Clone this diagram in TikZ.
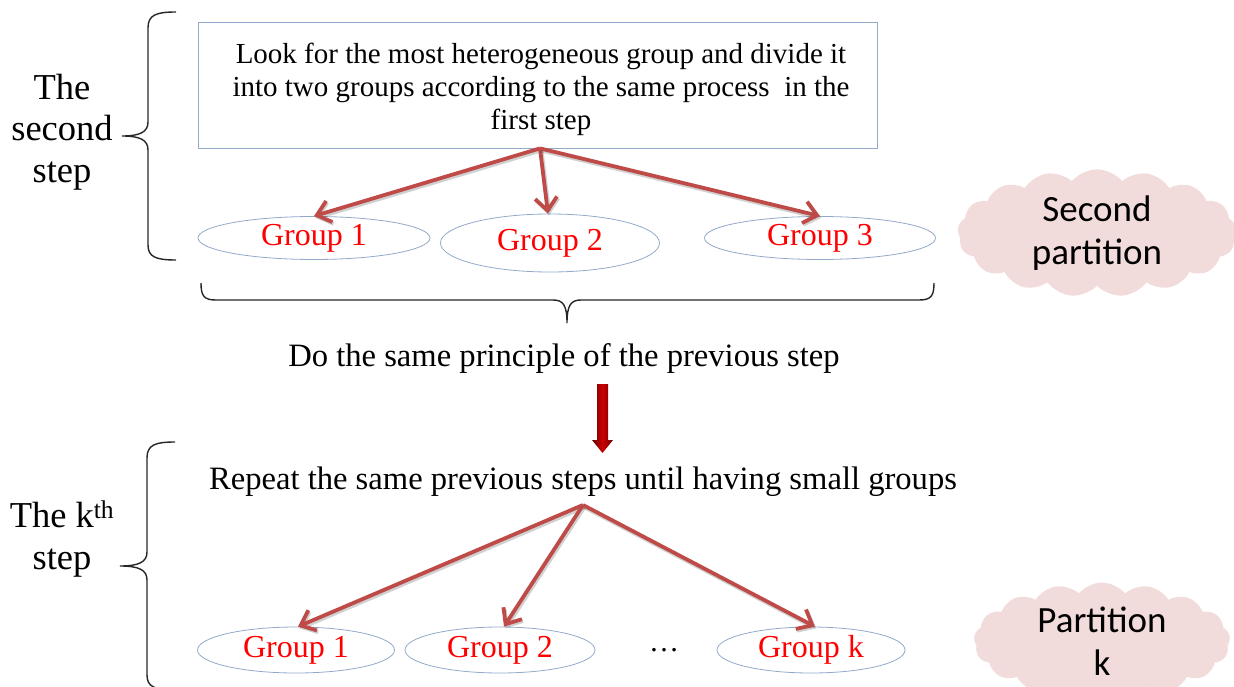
\documentclass[tikz,border=0pt]{standalone}
\usepackage{fontspec}
\setmainfont{Liberation Serif}
\newfontfamily\calib{Carlito}
\usetikzlibrary{shapes.geometric,shapes.symbols,arrows.meta}
\definecolor{arrowred}{HTML}{BE4B48}
\definecolor{outline}{HTML}{93A9C9}
\definecolor{cloudpink}{HTML}{F2DCDB}
\definecolor{bracegray}{HTML}{262626}
\begin{document}
\begin{tikzpicture}[x=1pt,y=-1pt,
  groupoval/.style={ellipse,draw=outline,line width=0.8pt,inner sep=0pt,
    text=red,font=\fontsize{32}{36}\selectfont},
  splitarrow/.style={draw=arrowred,line width=3.8pt,
    -{Straight Barb[length=13pt,width=22pt,line width=3.8pt]},
    preaction={draw=black,opacity=0.18,line width=4.5pt,
      transform canvas={shift={(1.2pt,-1.8pt)}}}},
  bigbrace/.style={draw=bracegray,line width=1.4pt},
  partcloud/.style={cloud,cloud puffs=17,cloud puff arc=100,aspect=2.6,
    fill=cloudpink,draw=none,inner sep=0pt,align=center,
    font=\calib\fontsize{37}{43}\selectfont},
  steplabel/.style={align=center,font=\fontsize{36.5}{41.5}\selectfont},
  plaintext/.style={font=\fontsize{32.6}{36}\selectfont,inner sep=0pt}
]
\useasboundingbox (0,0) rectangle (1234,687);

% ---- second step ----
\node[draw=outline,line width=0.8pt,minimum width=679pt,minimum height=126pt,
      inner sep=0pt] (box) at (537.5,85) {};
\node[align=center,font=\fontsize{29}{33}\selectfont,inner sep=0pt]
  (boxtext) at (541,89) {Look for the most heterogeneous group and divide it\\
  into two groups according to the same process\ \ in the\\ first step};

\node[groupoval,minimum width=232pt,minimum height=43pt] (a1) at (314,238) {Group 1};
\node[groupoval,minimum width=219pt,minimum height=58pt] (a2) at (550,243) {Group 2};
\node[groupoval,minimum width=231pt,minimum height=43pt] (a3) at (820,238) {Group 3};

\coordinate (hubA) at ([xshift=2.5pt]box.south);
\draw[splitarrow] (hubA) -- (a1.north);
\draw[splitarrow] (hubA) -- ([xshift=-2pt]a2.north);
\draw[splitarrow] (hubA) -- (a3.north);

\node[steplabel] (lab2) at (62,132) {The\\second\\step};
\draw[bigbrace] (176,12) .. controls (156,12) and (148,15) .. (148,28)
  -- (148,122) .. controls (148,132) and (140,136) .. (122,136)
  .. controls (140,136) and (148,140) .. (148,150)
  -- (148,245) .. controls (148,257) and (156,260) .. (176,260);

\node[partcloud,minimum width=242pt,minimum height=98pt] (c1) at (1097,233) {Second\\partition};

% ---- transition ----
\draw[bigbrace] (201,283) .. controls (201,296) and (204,300) .. (216,300)
  -- (553,300) .. controls (563,300) and (567,305) .. (567,323)
  .. controls (567,305) and (571,300) .. (581,300)
  -- (919,300) .. controls (931,300) and (934,296) .. (934,283);
\node[plaintext] (same) at (564,358) {Do the same principle of the previous step};

\shade[left color=red!40!black,right color=red!40!black,middle color=red!80!black]
  (597,384) -- (608,384) -- (608,440) -- (613,440) -- (602.5,453) -- (592,440)
  -- (597,440) -- cycle;

\node[plaintext] (rep) at (583,482) {Repeat the same previous steps until having small groups};

% ---- k-th step ----
\node[groupoval,minimum width=197pt,minimum height=46pt] (b1) at (296,650) {Group 1};
\node[groupoval,minimum width=190pt,minimum height=46pt] (b2) at (500,650) {Group 2};
\node[font=\fontsize{30}{34}\selectfont] (dots) at (664,650) {\dots};
\node[groupoval,minimum width=188pt,minimum height=46pt] (bk) at (811,650) {Group k};

\coordinate (hubB) at (583,505);
\draw[splitarrow] (hubB) -- ([xshift=2pt]b1.north);
\draw[splitarrow] (hubB) -- ([xshift=4pt]b2.north);
\draw[splitarrow] (hubB) -- ([xshift=4pt]bk.north);

\node[steplabel] (labk) at (62,539) {The k\textsuperscript{th}\\step};
\draw[bigbrace] (175,442) .. controls (155,442) and (147,445) .. (147,458)
  -- (147,552) .. controls (147,562) and (139,566) .. (120,566)
  .. controls (139,566) and (147,570) .. (147,580)
  -- (147,675) .. controls (147,687) and (155,690) .. (175,690);

\node[partcloud,minimum width=242pt,minimum height=98pt] (c2) at (1102,641) {Partition\\k};
\end{tikzpicture}
\end{document}
